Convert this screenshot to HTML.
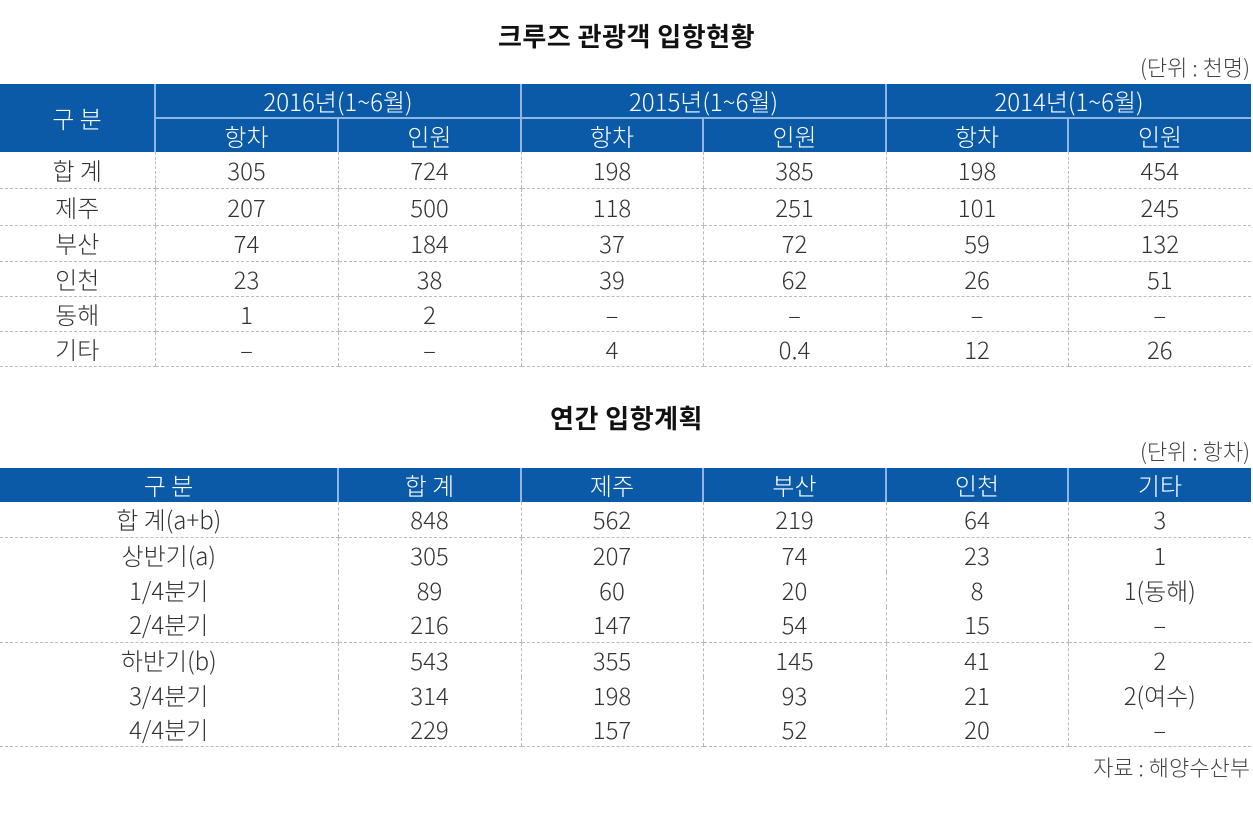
<!DOCTYPE html>
<html><head><meta charset="utf-8"><style>
body{margin:0;width:1253px;height:827px;background:#fff;position:relative;font-family:"Noto Sans CJK KR","Liberation Sans",sans-serif;color:#333;overflow:hidden}
.t{position:absolute;font-weight:bold;font-size:26px;letter-spacing:0.5px;color:#111;left:0;width:1253px;text-align:center;line-height:1.2}
.u{position:absolute;right:3px;font-size:22px;color:#444;font-weight:300;line-height:1.2}
table{position:absolute;left:0;width:1251px;border-collapse:collapse;table-layout:fixed}
td{text-align:center;font-size:24px;padding:0;font-weight:300;line-height:1}
th{background:#0b5aa7;color:#fff;font-weight:300;font-size:24px;padding:0;line-height:1}
.b td{border-left:1px dashed #bbb;border-bottom:1px dashed #bbb}
.b td:first-child{border-left:none}
</style></head><body>
<div class="t" style="top:20px">크루즈 관광객 입항현황</div>
<div class="u" style="top:54px">(단위 : 천명)</div>
<table style="top:84px">
<colgroup><col style="width:155px"><col style="width:183px"><col style="width:183px"><col style="width:182px"><col style="width:183px"><col style="width:182px"><col style="width:183px"></colgroup>
<tr style="height:34px"><th rowspan="2">구 분</th><th colspan="2" style="border-left:2px solid #8fb6e0;border-bottom:2px solid #8fb6e0">2016년(1~6월)</th><th colspan="2" style="border-left:2px solid #8fb6e0;border-bottom:2px solid #8fb6e0">2015년(1~6월)</th><th colspan="2" style="border-left:2px solid #8fb6e0;border-bottom:2px solid #8fb6e0">2014년(1~6월)</th></tr>
<tr style="height:34px"><th style="border-left:2px solid #8fb6e0">항차</th><th style="border-left:2px solid #8fb6e0">인원</th><th style="border-left:2px solid #8fb6e0">항차</th><th style="border-left:2px solid #8fb6e0">인원</th><th style="border-left:2px solid #8fb6e0">항차</th><th style="border-left:2px solid #8fb6e0">인원</th></tr>
<tbody class="b">
<tr style="height:36px"><td>합 계</td><td>305</td><td>724</td><td>198</td><td>385</td><td>198</td><td>454</td></tr>
<tr style="height:37px"><td>제주</td><td>207</td><td>500</td><td>118</td><td>251</td><td>101</td><td>245</td></tr>
<tr style="height:36px"><td>부산</td><td>74</td><td>184</td><td>37</td><td>72</td><td>59</td><td>132</td></tr>
<tr style="height:35px"><td>인천</td><td>23</td><td>38</td><td>39</td><td>62</td><td>26</td><td>51</td></tr>
<tr style="height:35px"><td>동해</td><td>1</td><td>2</td><td>–</td><td>–</td><td>–</td><td>–</td></tr>
<tr style="height:35px"><td>기타</td><td>–</td><td>–</td><td>4</td><td>0.4</td><td>12</td><td>26</td></tr>
</tbody></table>
<div class="t" style="top:402px">연간 입항계획</div>
<div class="u" style="top:438px">(단위 : 항차)</div>
<table style="top:468px">
<colgroup><col style="width:338px"><col style="width:183px"><col style="width:182px"><col style="width:183px"><col style="width:182px"><col style="width:183px"></colgroup>
<tr style="height:34px"><th>구 분</th><th style="border-left:2px solid #8fb6e0">합 계</th><th style="border-left:2px solid #8fb6e0">제주</th><th style="border-left:2px solid #8fb6e0">부산</th><th style="border-left:2px solid #8fb6e0">인천</th><th style="border-left:2px solid #8fb6e0">기타</th></tr>
<tbody class="b">
<tr style="height:35px"><td>합 계(a+b)</td><td>848</td><td>562</td><td>219</td><td>64</td><td>3</td></tr>
<tr style="height:35px"><td style="border-bottom:none">상반기(a)</td><td style="border-bottom:none">305</td><td style="border-bottom:none">207</td><td style="border-bottom:none">74</td><td style="border-bottom:none">23</td><td style="border-bottom:none">1</td></tr>
<tr style="height:35px"><td style="border-bottom:none">1/4분기</td><td style="border-bottom:none">89</td><td style="border-bottom:none">60</td><td style="border-bottom:none">20</td><td style="border-bottom:none">8</td><td style="border-bottom:none">1(동해)</td></tr>
<tr style="height:35px"><td>2/4분기</td><td>216</td><td>147</td><td>54</td><td>15</td><td>–</td></tr>
<tr style="height:35px"><td style="border-bottom:none">하반기(b)</td><td style="border-bottom:none">543</td><td style="border-bottom:none">355</td><td style="border-bottom:none">145</td><td style="border-bottom:none">41</td><td style="border-bottom:none">2</td></tr>
<tr style="height:35px"><td style="border-bottom:none">3/4분기</td><td style="border-bottom:none">314</td><td style="border-bottom:none">198</td><td style="border-bottom:none">93</td><td style="border-bottom:none">21</td><td style="border-bottom:none">2(여수)</td></tr>
<tr style="height:34px"><td>4/4분기</td><td>229</td><td>157</td><td>52</td><td>20</td><td>–</td></tr>
</tbody></table>
<div class="u" style="top:754px">자료 : 해양수산부</div>
</body></html>
